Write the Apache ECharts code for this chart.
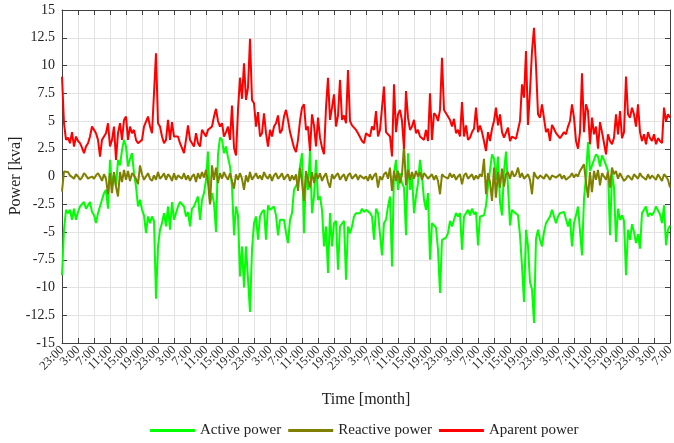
<!DOCTYPE html>
<html>
<head>
<meta charset="utf-8">
<script src="https://cdn.jsdelivr.net/npm/echarts@6/dist/echarts.min.js"></script>
<style>
html,body{margin:0;padding:0;background:#fff;}
#chart{width:674px;height:443px;}
</style>
</head>
<body>
<div id="chart"></div>
<script>
// x tick labels every 4 hours (one sample every 30 minutes)
const tickLabels = ['23:00','3:00','7:00','11:00','15:00','19:00',
  '23:00','3:00','7:00','11:00','15:00','19:00',
  '23:00','3:00','7:00','11:00','15:00','19:00',
  '23:00','3:00','7:00','11:00','15:00','19:00',
  '23:00','3:00','7:00','11:00','15:00','19:00',
  '23:00','3:00','7:00','11:00','15:00','19:00',
  '23:00','3:00','7:00'];
const hoursPerTick = 4;
const hoursPerSample = 0.5;
const yTicks = {min: -15, max: 15, interval: 2.5};
const xTitle = 'Time [month]';
const yTitle = 'Power [kva]';

const activePower = [
 -8.9,-4.8,-3.0,-3.3,-3.0,-3.9,-2.9,-3.9,
 -3.2,-2.7,-2.6,-2.3,-2.9,-3.0,-2.3,-3.2,
 -3.5,-4.2,-3.3,-3.2,-2.1,-1.5,-1.2,-2.9,
 1.5,-0.9,0.3,-0.9,1.5,1.0,2.4,3.3,
 2.7,0.9,1.6,2.1,0.3,-0.9,-2.7,-2.1,
 -3.0,-3.5,-5.1,-3.6,-4.2,-3.6,-4.0,-11.0,
 -6.3,-4.8,-4.2,-3.3,-4.5,-2.7,-4.8,-2.3,
 -3.9,-3.3,-2.7,-2.3,-2.4,-2.7,-3.6,-3.2,
 -4.5,-2.9,-2.7,-2.6,-1.8,-3.9,-2.1,-1.5,
 -0.3,2.25,-2.5,-1.5,-2.4,-5.0,2.0,3.5,
 3.3,2.1,2.7,1.7,0.9,-0.9,-5.3,-2.7,
 -3.5,-9.0,-6.3,-10.0,-6.3,-6.2,-12.2,-6.6,
 -4.2,-3.6,-5.7,-3.6,-3.2,-3.0,-5.7,-2.6,
 -3.0,-2.9,-2.7,-3.5,-5.3,-3.9,-4.0,-3.9,
 -5.1,-6.0,-3.9,-3.3,-1.2,-1.2,-0.5,0.9,
 2.1,-5.1,0.3,-1.2,2.4,-3.3,-1.8,1.5,
 -2.1,-1.8,-3.0,-6.3,-4.5,-8.7,-3.3,-6.3,
 -4.2,-4.0,-8.4,-4.5,-4.5,-4.0,-9.3,-4.5,
 -5.1,-4.5,-3.6,-3.3,-3.4,-3.3,-2.9,-3.2,
 -3.0,-3.0,-3.3,-3.6,-5.7,-2.9,-3.3,-3.3,
 -7.1,-4.2,-3.9,-2.7,-1.8,-8.1,0.3,1.5,
 -1.2,0.3,-0.6,-1.0,-5.3,2.1,-1.2,0.0,
 -3.3,-1.8,-0.6,1.5,0.0,-2.1,-3.0,-1.5,
 -7.5,-4.2,-4.2,-4.6,-6.6,-10.5,-5.7,-5.6,
 -5.5,-5.1,-4.0,-4.5,-3.9,-3.3,-3.6,-3.3,
 -6.6,-3.6,-3.75,-3.0,-3.5,-2.9,-3.4,-3.2,
 -6.2,-3.6,-3.6,-3.5,-2.6,-0.9,-0.75,2.0,
 1.6,-0.3,1.8,-2.3,-3.5,0.5,2.25,-0.9,
 -4.4,-3.0,-3.2,-3.3,-3.5,-5.3,-8.1,-11.3,
 -4.8,-6.3,-9.5,-10.2,-13.2,-5.6,-4.8,-5.7,
 -6.3,-5.0,-4.2,-4.2,-3.6,-3.0,-3.1,-4.2,
 -3.6,-3.3,-3.2,-3.2,-3.3,-4.5,-3.8,-6.3,
 -4.2,-3.5,-2.7,-2.7,-7.1,-2.0,0.0,3.1,
 0.5,1.0,1.5,2.0,1.8,0.9,1.9,1.5,
 1.5,0.5,-5.3,0.3,-1.0,-5.9,-2.9,-3.9,
 -3.5,-4.0,-8.9,-4.8,-5.7,-4.3,-5.0,-6.0,
 -5.2,-6.5,-3.3,-3.3,-2.7,-3.6,-3.3,-3.5,
 -3.2,-2.7,-2.7,-3.4,-4.2,-2.6,-6.2,-4.8,
 -4.4
];

const reactivePower = [
 -1.35,0.45,0.3,0.4,0.1,0.0,-0.2,0.2,
 0.0,-0.3,-0.1,0.3,0.1,-0.2,-0.3,0.0,
 -0.2,0.1,0.3,0.0,-0.4,0.2,-0.2,-1.6,
 0.3,-1.5,0.4,-0.9,-1.8,0.4,-0.5,0.6,
 -0.3,0.5,-0.4,0.3,0.1,-0.2,-0.7,1.0,
 0.2,-0.3,0.0,0.3,-0.2,-0.4,0.1,-0.3,
 0.4,-0.2,0.0,0.3,-0.3,0.2,0.0,-0.4,
 0.3,-0.3,0.1,0.2,-0.2,0.3,-0.3,0.1,
 -0.4,0.0,0.2,-0.5,0.3,-0.2,0.4,-0.1,
 0.6,-0.5,-2.5,1.0,-0.3,0.8,-0.6,0.3,
 -0.2,0.4,0.0,-0.3,0.3,-0.4,-1.1,0.2,
 -0.3,0.3,-0.2,-1.2,0.1,-0.5,0.4,-0.3,
 0.0,0.3,-0.2,0.1,-0.3,0.4,0.0,-0.2,
 0.2,-0.4,0.1,0.3,-0.2,0.0,0.3,-0.3,
 0.0,0.2,-0.4,0.1,-0.3,0.2,-1.3,0.8,
 -0.5,-2.2,0.5,-0.3,-1.0,0.4,-0.6,0.3,
 -0.2,0.3,-0.4,0.0,0.3,-0.5,-1.0,0.2,
 -0.2,0.1,0.3,-0.3,0.0,0.2,-0.4,0.1,
 0.3,-0.2,0.0,0.2,-0.3,0.1,0.2,-0.2,
 0.0,-0.4,0.2,-0.3,0.1,0.3,-1.0,0.0,
 -0.3,0.2,0.4,-0.2,0.8,-1.3,0.5,-0.4,
 0.5,-0.6,0.2,2.8,-0.8,0.6,-0.3,0.4,
 -0.2,0.5,0.0,0.4,-0.3,0.3,0.1,-0.2,
 0.0,0.2,-0.3,0.1,-0.4,-1.6,0.2,0.0,
 0.1,-0.2,0.3,-0.1,0.2,-0.3,0.0,0.2,
 -0.7,0.1,0.3,-0.2,0.0,0.2,-0.3,0.1,
 -0.2,0.2,0.0,1.6,-1.6,0.3,-0.5,-2.2,
 0.8,-1.9,0.4,-1.0,0.7,-0.9,0.2,0.4,
 -0.2,0.5,0.0,0.2,0.8,-0.1,0.3,-0.2,
 0.0,0.2,-0.3,-1.6,0.4,0.0,-0.2,0.1,
 0.0,-0.2,0.2,0.0,-0.3,0.1,0.2,-0.1,
 0.0,0.2,-0.2,0.1,-0.3,-0.4,0.0,0.3,
 -0.1,0.2,0.0,0.5,0.8,1.1,-0.5,-1.9,
 0.4,-1.4,0.5,-0.3,0.6,-0.8,0.3,0.0,
 -0.3,0.4,-1.0,0.8,0.2,0.5,-0.2,0.3,
 0.2,-0.4,-0.2,0.1,0.0,-0.3,0.2,0.0,
 -0.2,0.3,0.0,0.1,-0.3,0.2,-0.2,0.1,
 0.0,-0.3,0.2,0.1,-0.4,0.2,0.0,-0.3,
 -1.0
];

const apparentPower = [
 9.0,4.8,3.3,3.5,3.0,4.0,2.7,3.6,
 3.2,3.0,2.6,2.1,2.7,3.0,3.6,4.5,
 4.2,3.9,3.3,1.8,3.3,3.6,3.9,4.8,
 2.7,3.3,4.5,1.5,3.9,4.8,3.3,5.1,
 5.4,3.3,4.5,3.9,4.2,3.3,3.0,3.0,
 3.3,4.5,4.5,5.4,4.5,3.9,3.9,11.1,
 4.8,4.5,3.6,3.0,3.3,5.1,3.3,4.9,
 3.6,3.6,3.6,3.0,3.0,2.1,3.3,4.6,
 3.3,3.0,2.7,3.9,3.0,2.7,4.2,3.9,
 3.6,4.2,4.2,4.5,5.4,6.1,5.0,4.5,
 4.8,3.6,4.0,4.5,3.3,6.4,2.6,1.9,
 6.0,8.9,7.0,10.2,6.9,8.0,12.4,6.9,
 6.6,4.5,5.8,3.6,3.9,5.7,3.9,2.7,
 4.2,3.6,4.5,4.8,5.5,3.9,4.2,5.4,
 6.0,5.1,4.0,3.3,2.6,2.2,3.3,5.0,
 6.2,6.5,4.2,4.5,2.3,5.6,4.6,2.7,
 5.3,3.5,2.6,2.0,6.2,8.9,5.1,6.2,
 7.4,4.5,5.5,8.7,5.1,5.5,4.8,9.6,
 5.0,4.6,4.5,4.2,3.9,4.0,3.2,3.0,
 3.9,4.0,3.6,4.5,4.2,5.9,3.6,4.2,
 6.2,8.1,4.0,4.0,3.6,1.8,8.3,4.0,
 5.6,6.0,5.0,2.5,7.7,5.3,4.2,4.5,
 5.1,3.9,4.2,3.6,3.5,3.3,4.2,3.2,
 7.5,3.3,5.7,5.5,5.0,6.0,10.7,6.0,
 5.7,5.4,5.1,4.5,5.2,3.9,4.2,3.6,
 6.7,3.6,4.6,3.3,3.5,4.0,4.3,6.2,
 4.0,4.6,4.0,3.2,2.3,4.0,3.2,4.3,
 5.0,6.2,4.6,5.6,4.0,3.5,3.45,4.4,
 3.2,3.6,3.45,3.4,3.5,5.0,8.3,7.1,
 11.3,4.65,7.7,11.3,13.4,10.0,5.6,5.3,
 6.5,6.6,4.0,4.3,3.2,4.65,4.3,3.9,
 4.0,3.45,3.45,4.0,3.8,4.5,5.0,6.5,
 5.3,3.2,2.5,4.0,9.3,4.0,6.5,5.9,
 2.9,5.3,3.8,4.5,2.5,4.9,4.0,4.0,
 2.0,3.8,3.2,2.9,3.5,5.6,3.8,5.9,
 3.45,4.0,9.0,5.6,5.3,6.2,5.6,4.5,
 6.5,4.0,3.2,3.8,2.9,4.0,3.45,3.2,
 3.8,2.9,3.45,3.2,3.0,6.2,5.0,5.6,
 5.3
];

const seriesNames = ['Active power', 'Reactive power', 'Aparent power'];
const seriesColors = ['#00ff00', '#808000', '#ff0000'];

const toPairs = (arr) => arr.map((v, i) => [i * hoursPerSample, v]);
const xMax = (tickLabels.length - 1) * hoursPerTick;
const tickIndex = tickLabels.map((_, i) => String(i));

const font = 'Liberation Serif, Times New Roman, serif';
const axisColor = '#404040';
const gridColor = '#e3e3e3';

const chart = echarts.init(document.getElementById('chart'), null, {renderer: 'canvas'});
chart.setOption({
  animation: false,
  backgroundColor: '#ffffff',
  grid: {left: 62, right: 4, top: 10, bottom: 100, show: false, containLabel: false, outerBoundsMode: 'none'},
  legend: {
    bottom: 0, left: 145,
    icon: 'rect', itemWidth: 45, itemHeight: 3, itemGap: 7,
    textStyle: {fontFamily: font, fontSize: 15, color: '#222'},
    data: seriesNames
  },
  graphic: [{
    type: 'text', x: 16, y: 176, rotation: Math.PI / 2,
    style: {text: yTitle, fontFamily: font, fontSize: 16, fill: '#222', align: 'center', verticalAlign: 'middle'}
  }],
  xAxis: [{
    // bottom axis: one category per 4-hour tick, carries labels, ticks and grid lines
    type: 'category', data: tickIndex, boundaryGap: false,
    position: 'bottom',
    name: xTitle, nameLocation: 'middle', nameGap: 49,
    nameTextStyle: {fontFamily: font, fontSize: 16, color: '#222'},
    axisLine: {show: true, onZero: false, lineStyle: {color: axisColor, width: 1}},
    axisTick: {show: true, inside: true, length: 5, interval: 0, alignWithLabel: true, lineStyle: {color: axisColor}},
    axisLabel: {interval: 0, rotate: 45, margin: 5, formatter: (v, i) => tickLabels[i],
      fontFamily: font, fontSize: 12.5, color: '#222'},
    splitLine: {show: true, interval: 0, lineStyle: {color: gridColor, width: 1}}
  }, {
    // top axis: value scale in hours used by the series
    type: 'value', min: 0, max: xMax, interval: hoursPerTick, position: 'top',
    axisLine: {show: true, onZero: false, lineStyle: {color: axisColor, width: 1}},
    axisTick: {show: true, inside: true, length: 5, lineStyle: {color: axisColor}},
    axisLabel: {show: false}, splitLine: {show: false}
  }],
  yAxis: [{
    type: 'value', min: yTicks.min, max: yTicks.max, interval: yTicks.interval,
    position: 'left',
    axisLine: {show: true, onZero: false, lineStyle: {color: axisColor, width: 1}},
    axisTick: {show: true, inside: true, length: 5, lineStyle: {color: axisColor}},
    axisLabel: {fontFamily: font, fontSize: 14, color: '#222', margin: 7},
    splitLine: {show: true, lineStyle: {color: gridColor, width: 1}}
  }, {
    type: 'value', min: yTicks.min, max: yTicks.max, interval: yTicks.interval,
    position: 'right',
    axisLine: {show: true, onZero: false, lineStyle: {color: axisColor, width: 1}},
    axisTick: {show: true, inside: true, length: 5, lineStyle: {color: axisColor}},
    axisLabel: {show: false}, splitLine: {show: false}
  }],
  series: [
    {name: seriesNames[0], type: 'line', xAxisIndex: 1, data: toPairs(activePower), showSymbol: false, symbol: 'none',
     lineStyle: {color: seriesColors[0], width: 2}, itemStyle: {color: seriesColors[0]}, z: 2},
    {name: seriesNames[1], type: 'line', xAxisIndex: 1, data: toPairs(reactivePower), showSymbol: false, symbol: 'none',
     lineStyle: {color: seriesColors[1], width: 2}, itemStyle: {color: seriesColors[1]}, z: 3},
    {name: seriesNames[2], type: 'line', xAxisIndex: 1, data: toPairs(apparentPower), showSymbol: false, symbol: 'none',
     lineStyle: {color: seriesColors[2], width: 2}, itemStyle: {color: seriesColors[2]}, z: 4}
  ]
});
</script>
</body>
</html>
